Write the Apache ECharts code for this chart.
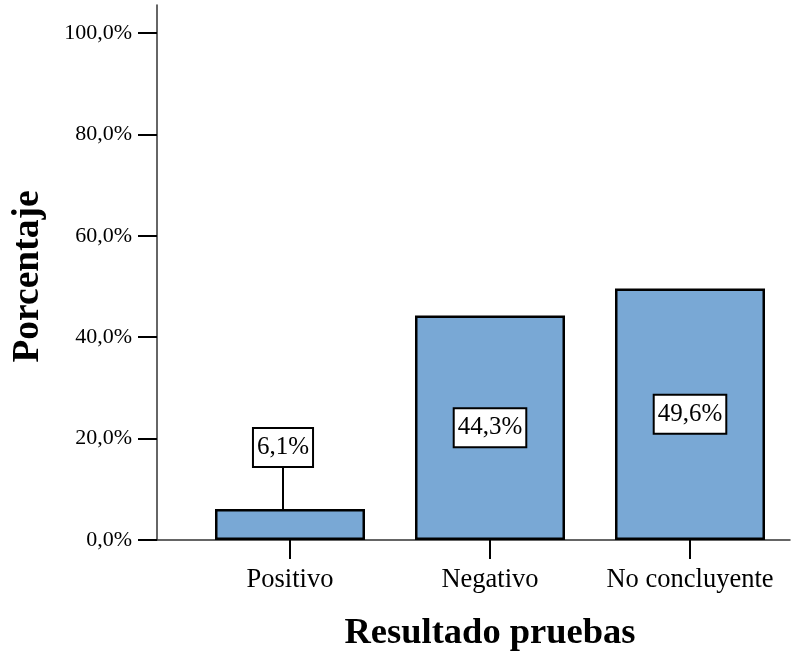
<!DOCTYPE html>
<html>
<head>
<meta charset="utf-8">
<script src="https://cdn.jsdelivr.net/npm/echarts@6/dist/echarts.min.js"></script>
<style>
  html, body { margin: 0; padding: 0; background: #fff; }
  #chart { width: 812px; height: 652px; }
</style>
</head>
<body>
<div id="chart"></div>
<script>
// datos
var categorias = ['Positivo', 'Negativo', 'No concluyente'];
var porcentajes = [6.1, 44.3, 49.6];
var ticksY = [0, 20, 40, 60, 80, 100];

document.addEventListener('DOMContentLoaded', function () {
  var myChart = echarts.init(document.getElementById('chart'));
  var fuente = 'Liberation Serif, Times New Roman, serif';

  function fmt(v) {
    return v.toFixed(1).replace('.', ',') + '%';
  }

  var option = {
    animation: false,
    textStyle: { fontFamily: fuente, color: '#000' },
    grid: [
      // marco de ejes
      { left: 157, right: 22, top: 5, bottom: 112, outerBoundsMode: 'none' },
      // barras
      { left: 190, right: 22, top: 33, bottom: 112, outerBoundsMode: 'none' }
    ],
    xAxis: [
      {
        gridIndex: 0, type: 'value', min: 0, max: 1,
        axisLine: { show: true, lineStyle: { color: '#333', width: 1.5 } },
        axisTick: { show: false }, axisLabel: { show: false }, splitLine: { show: false }
      },
      {
        gridIndex: 1, type: 'category', data: categorias,
        name: 'Resultado pruebas',
        nameLocation: 'middle',
        nameGap: 75,
        nameTextStyle: { fontFamily: fuente, fontSize: 36.5, fontWeight: 'bold', color: '#000' },
        axisLine: { show: false },
        axisTick: { show: true, alignWithLabel: true, length: 19, lineStyle: { color: '#000', width: 2 } },
        axisLabel: { interval: 0, fontFamily: fuente, fontSize: 26.5, color: '#000', margin: 27 },
        splitLine: { show: false }
      }
    ],
    yAxis: [
      {
        gridIndex: 0, type: 'value', min: 0, max: 1,
        name: 'Porcentaje',
        nameLocation: 'middle',
        nameGap: 110,
        nameTextStyle: {
          fontFamily: fuente, fontSize: 37.5, fontWeight: 'bold', color: '#000',
          padding: [0, 8, 0, 0]
        },
        axisLine: { show: true, lineStyle: { color: '#333', width: 1.5 } },
        axisTick: { show: false }, axisLabel: { show: false }, splitLine: { show: false }
      },
      {
        gridIndex: 1, type: 'value', min: ticksY[0], max: ticksY[ticksY.length - 1], interval: 20,
        offset: 33,
        axisLine: { show: false },
        axisTick: { show: true, length: 19, lineStyle: { color: '#000', width: 2 } },
        axisLabel: {
          fontFamily: fuente, fontSize: 22, color: '#000', margin: 25,
          formatter: function (v) { return fmt(v); }
        },
        splitLine: { show: false }
      }
    ],
    series: [
      {
        type: 'bar',
        xAxisIndex: 1,
        yAxisIndex: 1,
        data: porcentajes,
        barWidth: 150,
        itemStyle: { color: '#79a8d5', borderColor: '#000', borderWidth: 2.5 },
        label: {
          show: true,
          position: 'inside',
          formatter: function (p) { return fmt(p.value); },
          fontFamily: fuente,
          fontSize: 25,
          color: '#000',
          backgroundColor: '#fff',
          borderColor: '#000',
          borderWidth: 2,
          padding: [6, 3, 6, 3]
        },
        labelLine: { show: true, lineStyle: { color: '#000', width: 2 } },
        labelLayout: function (params) {
          // etiqueta de la barra pequeña desplazada hacia arriba
          if (params.dataIndex === 0) {
            return { dx: -7, dy: -77 };
          }
          return {};
        }
      }
    ]
  };

  myChart.setOption(option);

  window.addEventListener('resize', function () {
    myChart.resize();
  });
});
</script>
</body>
</html>
